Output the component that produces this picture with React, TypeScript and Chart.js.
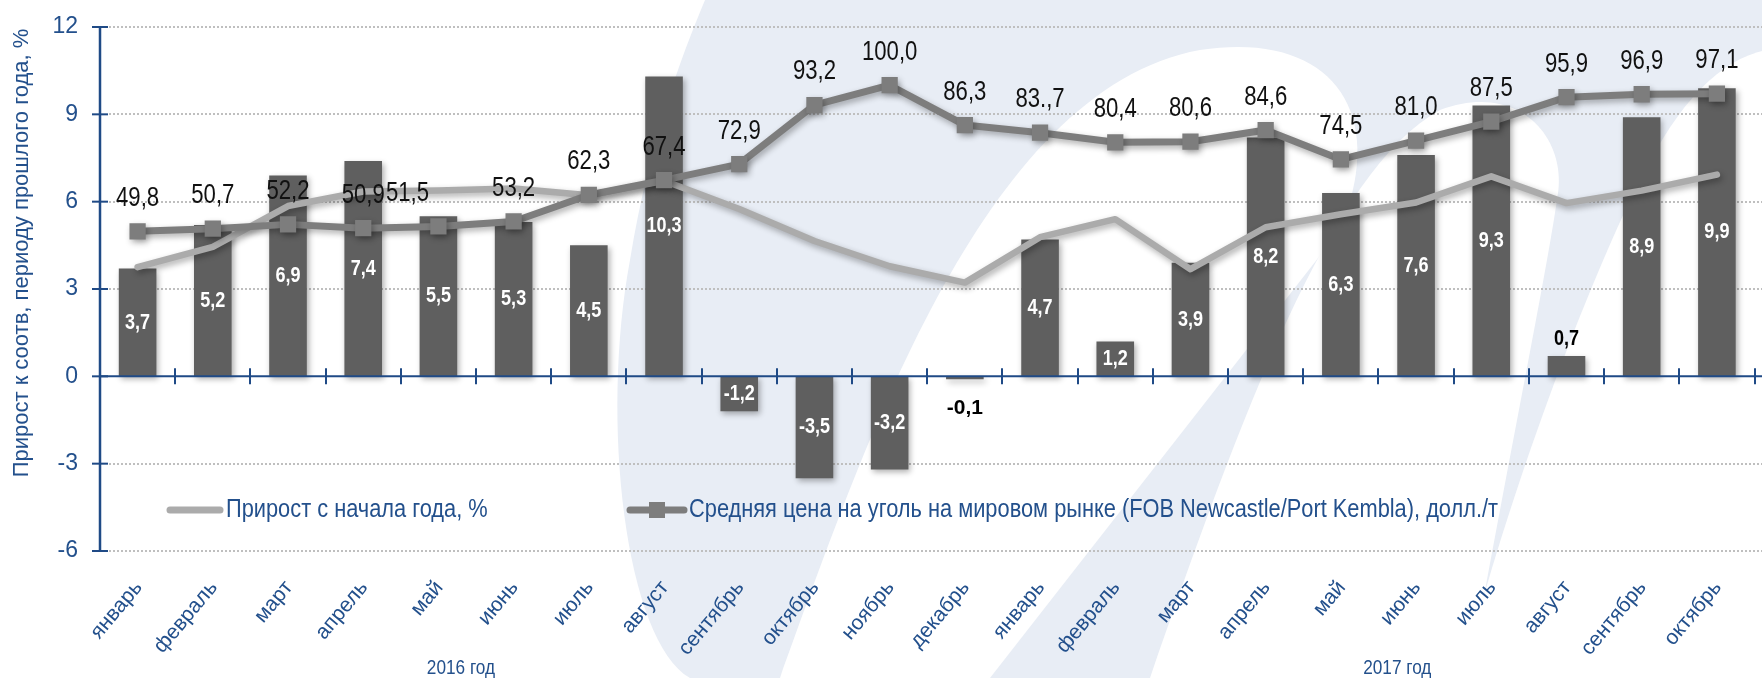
import React, { useEffect, useRef } from 'react';
import { Chart, registerables } from 'chart.js';

Chart.register(...registerables);

// ---------- data ----------
const months = [
  'январь', 'февраль', 'март', 'апрель', 'май', 'июнь', 'июль', 'август', 'сентябрь', 'октябрь', 'ноябрь', 'декабрь',
  'январь', 'февраль', 'март', 'апрель', 'май', 'июнь', 'июль', 'август', 'сентябрь', 'октябрь',
];
const yoyGrowth = [3.7, 5.2, 6.9, 7.4, 5.5, 5.3, 4.5, 10.3, -1.2, -3.5, -3.2, -0.1, 4.7, 1.2, 3.9, 8.2, 6.3, 7.6, 9.3, 0.7, 8.9, 9.9];
const ytdGrowth = [3.75, 4.45, 5.85, 6.35, 6.38, 6.45, 6.22, 6.72, 5.75, 4.65, 3.78, 3.22, 4.78, 5.4, 3.68, 5.12, 5.57, 5.97, 6.87, 5.95, 6.38, 6.93];
const coalPrice = [49.8, 50.7, 52.2, 50.9, 51.5, 53.2, 62.3, 67.4, 72.9, 93.2, 100.0, 86.3, 83.7, 80.4, 80.6, 84.6, 74.5, 81.0, 87.5, 95.9, 96.9, 97.1];
const coalPriceLabels = ['49,8', '50,7', '52,2', '50,9', '51,5', '53,2', '62,3', '67,4', '72,9', '93,2', '100,0', '86,3', '83.,7', '80,4', '80,6', '84,6', '74,5', '81,0', '87,5', '95,9', '96,9', '97,1'];
const yTicks = [12, 9, 6, 3, 0, -3, -6];
const yearLabels = ['2016 год', '2017 год'];
const yAxisTitle = 'Прирост к соотв, периоду прошлого года, %';
const seriesNames = [
  'Прирост к соотв. периоду прошлого года, %',
  'Прирост с начала года, %',
  'Средняя цена на уголь на мировом рынке (FOB Newcastle/Port Kembla), долл./т',
];

// ---------- styling ----------
const W = 1766;
const H = 678;
const BLUE_TEXT = '#23508c';
const BLUE_LINE = '#1f4a86';
const BAR_COLOR = '#5f5f5f';
const LIGHT_LINE = '#ababab';
const DARK_LINE = '#7d7d7d';
const WATERMARK = '#e8edf5';

function hasFont(name: string): boolean {
  try {
    const c = document.createElement('canvas').getContext('2d');
    if (!c) return false;
    c.font = '40px monospace';
    const a = c.measureText('Прирост WwIl 0123').width;
    c.font = `40px "${name}", monospace`;
    const b = c.measureText('Прирост WwIl 0123').width;
    return Math.abs(a - b) > 0.5;
  } catch (e) {
    return false;
  }
}
const NARROW_OK = hasFont('Liberation Sans Narrow');

type TOpts = {
  size: number;
  bold?: boolean;
  narrow?: boolean;
  color?: string;
  align?: CanvasTextAlign;
  baseline?: CanvasTextBaseline;
  rotate?: number;
};

function drawText(ctx: CanvasRenderingContext2D, s: string, x: number, y: number, o: TOpts) {
  ctx.save();
  ctx.translate(x, y);
  if (o.rotate) ctx.rotate(o.rotate);
  const useNarrowFont = !!o.narrow && NARROW_OK;
  const family = useNarrowFont ? '"Liberation Sans Narrow", "Arial Narrow", sans-serif' : '"Liberation Sans", Arial, sans-serif';
  ctx.font = `${o.bold ? 'bold ' : ''}${o.size}px ${family}`;
  if (o.narrow && !NARROW_OK) ctx.scale(0.82, 1);
  ctx.textAlign = o.align || 'center';
  ctx.textBaseline = o.baseline || 'middle';
  ctx.fillStyle = o.color || '#000';
  ctx.fillText(s, 0, 0);
  ctx.restore();
}

function fmt(v: number): string {
  return v.toFixed(1).replace('.', ',');
}

function drawWatermark(ctx: CanvasRenderingContext2D) {
  ctx.save();
  ctx.fillStyle = '#ffffff';
  ctx.fillRect(0, 0, W, H);
  ctx.fillStyle = WATERMARK;
  ctx.beginPath();
  ctx.moveTo(705, 0);
  ctx.lineTo(W, 0);
  ctx.lineTo(W, H);
  ctx.lineTo(690, H);
  ctx.bezierCurveTo(625, 640, 600, 420, 630, 260);
  ctx.bezierCurveTo(650, 140, 680, 60, 705, 0);
  ctx.closePath();
  ctx.fill();
  ctx.fillStyle = '#ffffff';
  // gap 1
  ctx.beginPath();
  ctx.moveTo(780, H);
  ctx.bezierCurveTo(860, 460, 980, 90, 1200, 50);
  ctx.bezierCurveTo(1330, 30, 1390, 110, 1340, 230);
  ctx.lineTo(990, H);
  ctx.closePath();
  ctx.fill();
  // gap 2
  ctx.beginPath();
  ctx.moveTo(1150, H);
  ctx.bezierCurveTo(1240, 420, 1330, 170, 1440, 110);
  ctx.bezierCurveTo(1520, 80, 1570, 140, 1557, 200);
  ctx.bezierCurveTo(1545, 280, 1520, 400, 1469, H);
  ctx.closePath();
  ctx.fill();
  // right white area beyond the crescent
  ctx.beginPath();
  ctx.moveTo(1462, H);
  ctx.bezierCurveTo(1500, 520, 1580, 300, 1640, 180);
  ctx.bezierCurveTo(1680, 100, 1720, 60, W, 50);
  ctx.lineTo(W, H);
  ctx.closePath();
  ctx.fill();
  ctx.restore();
}

const decorPlugin = {
  id: 'decor',
  beforeDraw(chart: any) {
    drawWatermark(chart.ctx);
  },
  beforeDatasetsDraw(chart: any) {
    const ctx: CanvasRenderingContext2D = chart.ctx;
    const y = chart.scales.y;
    const area = chart.chartArea;
    ctx.save();
    ctx.strokeStyle = '#bfbfbf';
    ctx.lineWidth = 2;
    ctx.setLineDash([2, 2]);
    yTicks.forEach((t) => {
      if (t === 0) return;
      const py = Math.round(y.getPixelForValue(t));
      ctx.beginPath();
      ctx.moveTo(area.left + 9, py);
      ctx.lineTo(W, py);
      ctx.stroke();
    });
    ctx.restore();
  },
  beforeDatasetDraw(chart: any) {
    const ctx: CanvasRenderingContext2D = chart.ctx;
    ctx.save();
    ctx.shadowColor = 'rgba(0,0,0,0.32)';
    ctx.shadowBlur = 6;
    ctx.shadowOffsetX = 2;
    ctx.shadowOffsetY = 3;
  },
  afterDatasetDraw(chart: any) {
    chart.ctx.restore();
  },
  afterDatasetsDraw(chart: any) {
    const ctx: CanvasRenderingContext2D = chart.ctx;
    const y = chart.scales.y;
    const area = chart.chartArea;
    const catW = (area.right - area.left) / months.length;
    const y0 = y.getPixelForValue(0);
    ctx.save();
    ctx.strokeStyle = BLUE_LINE;
    ctx.lineWidth = 2;
    ctx.beginPath();
    ctx.moveTo(area.left, y0);
    ctx.lineTo(W, y0);
    ctx.stroke();
    for (let k = 1; k <= months.length; k++) {
      const px = Math.round(area.left + k * catW);
      ctx.beginPath();
      ctx.moveTo(px, y0 - 8);
      ctx.lineTo(px, y0 + 8);
      ctx.stroke();
    }
    ctx.lineWidth = 2.5;
    ctx.beginPath();
    ctx.moveTo(area.left, y.getPixelForValue(12));
    ctx.lineTo(area.left, y.getPixelForValue(-6));
    ctx.stroke();
    ctx.lineWidth = 2;
    yTicks.forEach((t) => {
      const py = y.getPixelForValue(t);
      ctx.beginPath();
      ctx.moveTo(area.left - 8, py);
      ctx.lineTo(area.left + 8, py);
      ctx.stroke();
    });
    ctx.restore();
  },
  afterDraw(chart: any) {
    const ctx: CanvasRenderingContext2D = chart.ctx;
    const x = chart.scales.x;
    const y = chart.scales.y;
    const area = chart.chartArea;
    const catW = (area.right - area.left) / months.length;

    // bar value labels
    const barMeta = chart.getDatasetMeta(0);
    barMeta.data.forEach((bar: any, i: number) => {
      const v = yoyGrowth[i];
      const s = fmt(v);
      if (Math.abs(v) < 1) {
        if (v >= 0) drawText(ctx, s, bar.x, bar.y - 17, { size: 22, bold: true, narrow: true, color: '#000' });
        else drawText(ctx, s, bar.x, bar.y + 29, { size: 21, bold: true, narrow: false, color: '#000' });
      } else {
        drawText(ctx, s, bar.x, (bar.y + bar.base) / 2, { size: 22, bold: true, narrow: true, color: '#ffffff' });
      }
    });

    // price labels
    const priceMeta = chart.getDatasetMeta(2);
    const priceShift: Record<number, number> = { 4: -31 };
    priceMeta.data.forEach((pt: any, i: number) => {
      drawText(ctx, coalPriceLabels[i], pt.x + (priceShift[i] || 0), pt.y - 33, { size: 27, narrow: true, color: '#111' });
    });

    // y tick labels
    yTicks.forEach((t) => {
      drawText(ctx, String(t), area.left - 22, y.getPixelForValue(t), { size: 23, color: BLUE_TEXT, align: 'right' });
    });

    // x tick labels
    months.forEach((m, i) => {
      drawText(ctx, m, x.getPixelForValue(i) + 1, area.bottom + 33, {
        size: 21, color: BLUE_TEXT, align: 'right', rotate: -50 * Math.PI / 180,
      });
    });

    // year labels
    const yearAt = [4.3, 16.75];
    yearLabels.forEach((l, i) => {
      drawText(ctx, l, area.left + (yearAt[i] + 0.5) * catW, 668, { size: 21, narrow: true, color: BLUE_TEXT });
    });

    // y axis title
    drawText(ctx, yAxisTitle, 22, 253, { size: 22, color: BLUE_TEXT, rotate: -Math.PI / 2 });

    // legend
    const ly = area.bottom - 41;
    ctx.save();
    ctx.lineCap = 'round';
    ctx.lineWidth = 7;
    ctx.strokeStyle = LIGHT_LINE;
    ctx.beginPath();
    ctx.moveTo(170, ly);
    ctx.lineTo(220, ly);
    ctx.stroke();
    ctx.strokeStyle = DARK_LINE;
    ctx.beginPath();
    ctx.moveTo(630, ly);
    ctx.lineTo(684, ly);
    ctx.stroke();
    ctx.fillStyle = DARK_LINE;
    ctx.fillRect(657 - 8, ly - 8, 16, 16);
    ctx.restore();
    drawText(ctx, seriesNames[1], 226, ly, { size: 26.6, narrow: true, color: BLUE_TEXT, align: 'left' });
    drawText(ctx, seriesNames[2], 689, ly, { size: 26.6, narrow: true, color: BLUE_TEXT, align: 'left' });
  },
};

export default function App() {
  const ref = useRef<HTMLCanvasElement | null>(null);
  useEffect(() => {
    const canvas = ref.current;
    if (!canvas) return;
    canvas.width = W;
    canvas.height = H;
    const chart = new Chart(canvas, {
      type: 'bar',
      data: {
        labels: months,
        datasets: [
          {
            type: 'bar',
            label: seriesNames[0],
            data: yoyGrowth,
            backgroundColor: BAR_COLOR,
            categoryPercentage: 0.5,
            barPercentage: 1,
            order: 3,
            yAxisID: 'y',
          } as any,
          {
            type: 'line',
            label: seriesNames[1],
            data: ytdGrowth,
            borderColor: LIGHT_LINE,
            borderWidth: 6.5,
            pointRadius: 0,
            tension: 0,
            order: 2,
            yAxisID: 'y',
            borderJoinStyle: 'round',
            borderCapStyle: 'round',
          } as any,
          {
            type: 'line',
            label: seriesNames[2],
            data: coalPrice,
            borderColor: DARK_LINE,
            borderWidth: 7,
            pointStyle: 'rect',
            pointRadius: 11.5,
            pointBackgroundColor: DARK_LINE,
            pointBorderColor: DARK_LINE,
            pointBorderWidth: 0,
            tension: 0,
            order: 1,
            yAxisID: 'y2',
            borderJoinStyle: 'round',
            borderCapStyle: 'round',
          } as any,
        ],
      },
      options: {
        responsive: false,
        maintainAspectRatio: false,
        animation: false,
        devicePixelRatio: 1,
        events: [],
        layout: { padding: { top: 27, left: 0, right: 0, bottom: 0 } },
        plugins: { legend: { display: false }, tooltip: { enabled: false }, title: { display: false } },
        scales: {
          x: {
            offset: true,
            grid: { display: false },
            border: { display: false },
            ticks: { display: false },
            afterFit(s: any) {
              s.height = 127;
              s.paddingLeft = 0;
              s.paddingRight = 0;
            },
          },
          y: {
            min: -6,
            max: 12,
            ticks: { display: false, stepSize: 3 },
            grid: { display: false },
            border: { display: false },
            afterFit(s: any) {
              s.width = 100;
              s.paddingTop = 0;
              s.paddingBottom = 0;
            },
          },
          y2: { display: false, min: -60, max: 120 },
        },
      } as any,
      plugins: [decorPlugin as any],
    });
    return () => chart.destroy();
  }, []);
  return (
    <div style={{ position: 'absolute', left: 0, top: 0, width: 1762, height: 678, overflow: 'hidden', background: '#fff' }}>
      <canvas ref={ref} style={{ display: 'block', width: W, height: H }} />
    </div>
  );
}
